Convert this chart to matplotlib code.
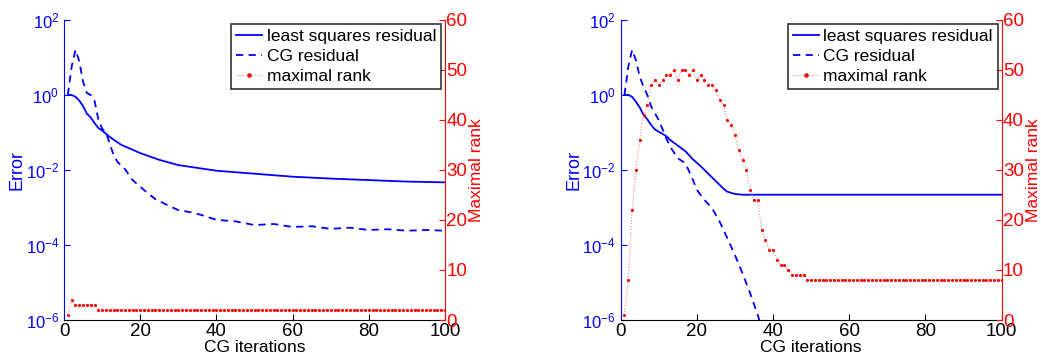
import numpy as np
import matplotlib.pyplot as plt
from matplotlib.lines import Line2D

plt.rcParams['font.family'] = ['Liberation Sans', 'DejaVu Sans']
plt.rcParams['font.size'] = 12

# ---- data (log10 of error, rank) ----
# left panel
ls_left_it = [1, 2, 3, 4, 5, 6, 7, 8, 9, 10, 12, 15, 20, 25, 30, 40, 50, 60, 70, 80, 90, 100]
ls_left_log = [0, 0, -0.05, -0.15, -0.3, -0.5, -0.6, -0.75, -0.88, -0.95, -1.12, -1.33,
               -1.55, -1.73, -1.87, -2.02, -2.1, -2.18, -2.23, -2.27, -2.31, -2.33]
cg_left_it = [1, 2, 3, 4, 5, 6, 7, 8, 9, 10, 11, 12, 13, 14, 16, 18, 20, 22, 24, 28, 30,
              34, 36, 40, 45, 50, 55, 60, 65, 70, 75, 80, 85, 90, 95, 100]
cg_left_log = [0, 0.75, 1.2, 0.9, 0.35, 0.05, 0.0, -0.15, -0.65, -0.9, -1.0, -1.3, -1.6,
               -1.78, -1.98, -2.27, -2.45, -2.62, -2.78, -2.98, -3.07, -3.14, -3.2, -3.33,
               -3.37, -3.47, -3.44, -3.52, -3.5, -3.57, -3.54, -3.6, -3.58, -3.62, -3.6, -3.62]
rank_left = [1, 4, 3, 3, 3, 3, 3, 3] + [2] * 92

# right panel
ls_right_it = [1, 2, 3, 4, 5, 6, 7, 8, 9, 10, 12, 13, 15, 17, 19, 21, 23, 25, 27, 28,
               30, 32, 40, 100]
ls_right_log = [0, 0, -0.05, -0.18, -0.33, -0.53, -0.65, -0.8, -0.92, -0.98, -1.1, -1.2,
                -1.35, -1.5, -1.72, -1.9, -2.1, -2.3, -2.5, -2.58, -2.64, -2.66, -2.66, -2.66]
cg_right_it = [1, 2, 3, 4, 5, 6, 7, 8, 10, 12, 13, 15, 17, 19, 20, 22, 24, 26, 28, 30,
               32, 34, 36, 37]
cg_right_log = [0, 0.75, 1.2, 0.93, 0.49, 0.22, 0, -0.31, -0.67, -1.16, -1.38, -1.69,
                -1.82, -2.27, -2.53, -2.8, -3.02, -3.38, -3.82, -4.27, -4.76, -5.29,
                -5.87, -6.2]
rank_right = [1, 8, 22, 30, 36, 41, 43, 47, 48, 47, 48, 49, 49, 50, 48, 50, 50, 49, 50,
              48, 49, 48, 47, 47, 46, 44, 43, 40, 39, 37, 34, 32, 30, 26, 24, 24, 18, 16,
              14, 14, 12, 11, 11, 10, 9, 9, 9, 9] + [8] * 52

BLUE = '#0000ff'
RED = '#ff0000'


def panel(fig, rect, ls_it, ls_log, cg_it, cg_log, rank):
    ax = fig.add_axes(rect)
    ax.semilogy(ls_it, 10.0 ** np.array(ls_log), '-', color=BLUE, lw=1.3)
    ax.semilogy(cg_it, 10.0 ** np.array(cg_log), '--', color=BLUE, lw=1.3,
                dashes=(4, 3))
    ax.set_xlim(0, 100)
    ax.set_ylim(1e-6, 1e2)
    ax.set_yticks([1e-6, 1e-4, 1e-2, 1e0, 1e2])
    ax.minorticks_off()
    ax.set_xticks([0, 20, 40, 60, 80, 100])
    ax.spines['top'].set_visible(False)
    ax.spines['right'].set_visible(False)
    ax.spines['left'].set_color(BLUE)
    ax.tick_params(axis='y', colors=BLUE, direction='in', length=4, labelsize=12)
    ax.tick_params(axis='x', colors='black', direction='in', length=4, labelsize=13.5,
                   pad=2)
    ax.set_ylabel('Error', color=BLUE, fontsize=13, labelpad=0)
    ax.set_xlabel('CG iterations', fontsize=12.5, labelpad=0)

    ax2 = ax.twinx()
    it = np.arange(1, len(rank) + 1)
    ax2.plot(it, rank, ':', color='#ff8080', lw=0.8)
    ax2.plot(it, rank, '.', color=RED, ms=4.5, mew=0)
    ax2.set_ylim(0, 60)
    ax2.set_xlim(0, 100)
    ax2.set_yticks(range(0, 61, 10))
    for s in ('top', 'left', 'bottom'):
        ax2.spines[s].set_visible(False)
    ax2.spines['right'].set_color(RED)
    ax2.tick_params(axis='y', colors=RED, direction='in', length=4, labelsize=13.5, pad=1)
    lab = ax2.set_ylabel('Maximal rank', color=RED, fontsize=12.5)
    lab.set_va('center')
    ax2.yaxis.set_label_coords(1.083, 0.5)

    handles = [
        Line2D([], [], color=BLUE, lw=1.3, ls='-'),
        Line2D([], [], color=BLUE, lw=1.3, ls='--', dashes=(4, 3)),
        Line2D([], [], color='#ff8080', lw=0.8, ls=':', marker='.', ms=4.5,
               mfc=RED, mec=RED, markevery=[1]),
    ]
    leg = ax2.legend(handles, ['least squares residual', 'CG residual', 'maximal rank'],
                     loc='upper right', bbox_to_anchor=(0.99, 0.987), fontsize=12.5,
                     frameon=True, fancybox=False, edgecolor='black',
                     borderpad=0.3, labelspacing=0.28, handlelength=1.5,
                     handletextpad=0.25, borderaxespad=0)
    leg.get_frame().set_linewidth(1.2)
    return ax, ax2


fig = plt.figure(figsize=(10.41, 3.62), dpi=100)
panel(fig, [0.0615, 0.116, 0.366, 0.829], ls_left_it, ls_left_log,
      cg_left_it, cg_left_log, rank_left)
panel(fig, [0.5962, 0.116, 0.366, 0.829], ls_right_it, ls_right_log,
      cg_right_it, cg_right_log, rank_right)

fig.savefig('out.png', dpi=100)
